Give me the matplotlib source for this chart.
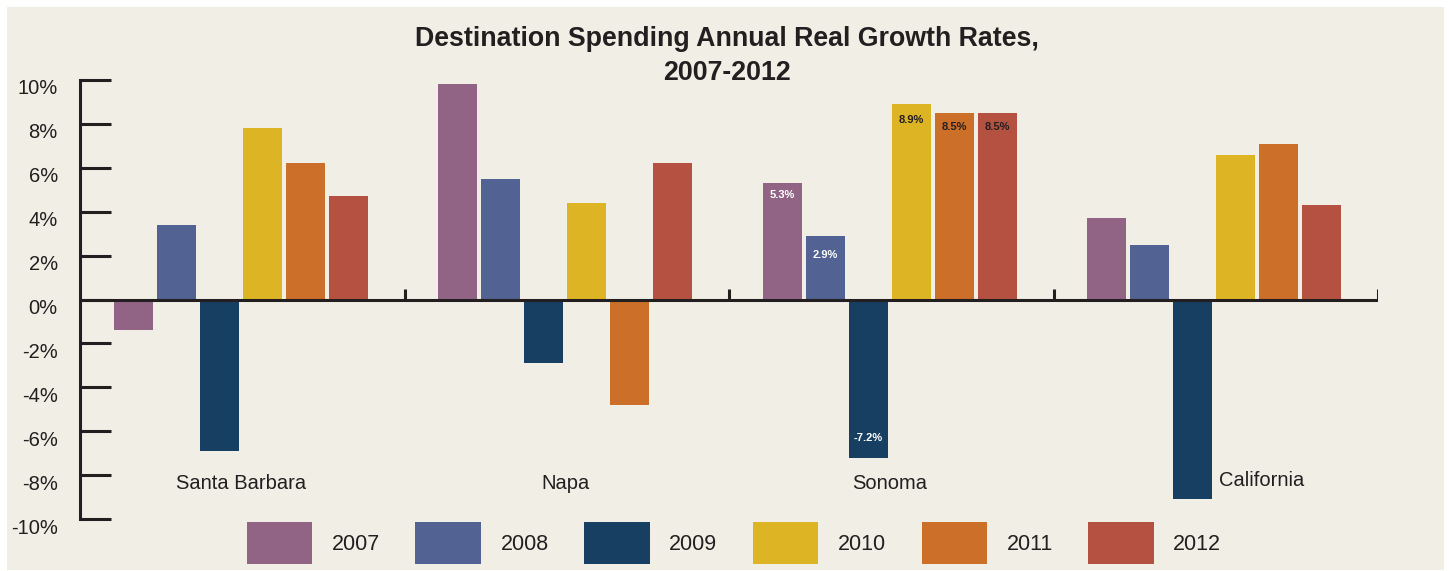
import numpy as np
import matplotlib.pyplot as plt
import matplotlib.transforms as mtransforms
from matplotlib.patches import Rectangle

# Data
regions = ["Santa Barbara", "Napa", "Sonoma", "California"]
years = ["2007", "2008", "2009", "2010", "2011", "2012"]
g2007 = [-1.4, 9.8, 5.3, 3.7]
g2008 = [3.4, 5.5, 2.9, 2.5]
g2009 = [-6.9, -2.9, -7.2, -9.1]
g2010 = [7.8, 4.4, 8.9, 6.6]
g2011 = [6.2, -4.8, 8.5, 7.1]
g2012 = [4.7, 6.2, 8.5, 4.3]
series = [g2007, g2008, g2009, g2010, g2011, g2012]
colors = ["#916485", "#526292", "#173f62", "#dcb424", "#cc6f28", "#b55140"]
yticks = [-10, -8, -6, -4, -2, 0, 2, 4, 6, 8, 10]

bg = "#f1eee6"
ink = "#231f20"
plt.rcParams['font.family'] = ['Liberation Sans', 'DejaVu Sans']

W, H = 1449, 571
fig = plt.figure(figsize=(W / 100, H / 100), dpi=100, facecolor="white")
fig.patches.append(Rectangle((7 / W, 1 / H), 1437 / W, 563 / H,
                             transform=fig.transFigure, facecolor=bg,
                             edgecolor="none", zorder=-5))

ax = fig.add_axes([80 / W, 52 / H, 1298 / W, 439 / H])
ax.set_facecolor("none")
ax.set_zorder(2)

x = np.arange(len(regions))
step = 43 / 324.5
width = 39 / 324.5
bars = []
for k, (vals, c) in enumerate(zip(series, colors)):
    b = ax.bar(x + (k - 2.5) * step - 0.005, vals, width, color=c, zorder=2,
               label=years[k])
    bars.append(b)

ax.set_xlim(-0.5, 3.5)
ax.set_ylim(-10, 10)

# zero line with group separators
ax.axhline(0, color=ink, lw=2.2, zorder=3)
for bnd in [0.5, 1.5, 2.5, 3.5]:
    ax.plot([bnd, bnd], [0, 0.47], color=ink, lw=2.2, zorder=3,
            solid_capstyle="butt")

for s in ["top", "right", "bottom"]:
    ax.spines[s].set_visible(False)
ax.spines["left"].set_linewidth(2.2)
ax.spines["left"].set_color(ink)
ax.set_xticks([])
ax.set_yticks(yticks)
ax.set_yticklabels([f"{t}%" for t in yticks])
ax.tick_params(axis="y", direction="in", length=22, width=2.2, color=ink,
               labelsize=14.5, labelcolor=ink, pad=16)
shift = mtransforms.ScaledTranslation(0, -7 / 100, fig.dpi_scale_trans)
for lbl in ax.get_yticklabels():
    lbl.set_transform(lbl.get_transform() + shift)

# region labels
for i, name in enumerate(regions):
    if name == "California":
        ax.text(i + 0.01, -8.25, name, ha="left", va="center",
                fontsize=14.5, color=ink)
    else:
        ax.text(i - 0.005, -8.4, name, ha="center", va="center",
                fontsize=14.5, color=ink)

# data labels on Sonoma bars
si = regions.index("Sonoma")
lab_style = {"2007": ("white", -12), "2008": ("white", -19), "2009": ("white", 20),
             "2010": (ink, -16), "2011": (ink, -14), "2012": (ink, -14)}
for k, vals in enumerate(series):
    v = vals[si]
    col, off = lab_style[years[k]]
    ax.annotate(f"{v}%", (x[si] + (k - 2.5) * step - 0.005, v),
                xytext=(0, off), textcoords="offset pixels",
                ha="center", va="center", fontsize=8, fontweight="bold",
                color=col, zorder=4)

fig.text(727 / W, 1 - 56 / H, "Destination Spending Annual Real Growth Rates,\n2007-2012",
         ha="center", va="center", fontsize=19.3, fontweight="bold", color=ink,
         linespacing=1.38)

fig.legend(handles=bars, labels=years, loc="center",
           bbox_to_anchor=(734 / W, 1 - 543 / H), ncol=6, frameon=False,
           fontsize=15.5, handlelength=3.05, handleheight=2.6,
           handletextpad=0.9, columnspacing=1.65, labelcolor=ink)

fig.savefig("out.png", dpi=100, facecolor="white")
